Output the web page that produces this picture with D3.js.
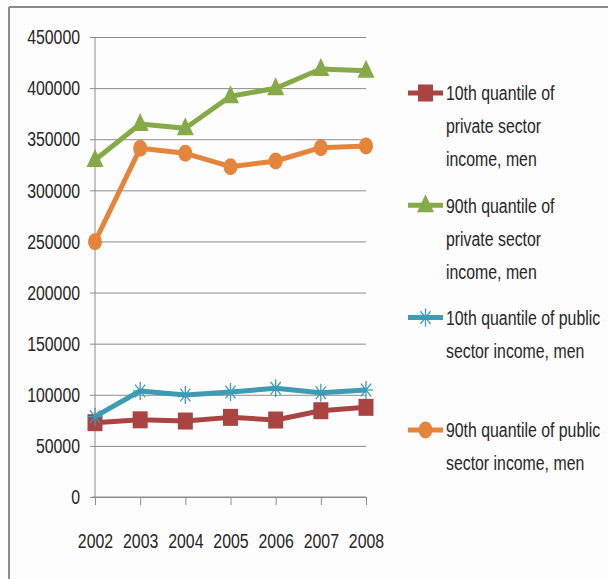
<!DOCTYPE html>
<html>
<head>
<meta charset="utf-8">
<script src="https://cdn.jsdelivr.net/npm/d3@7"></script>
<style>
  html, body { margin: 0; padding: 0; background: #fdfdfd; }
  svg { display: block; }
  text { font-family: "Liberation Sans", Arial, sans-serif; fill: #262626; }
</style>
</head>
<body>
<svg id="chart"></svg>
<script>
// Data
const years = [2002, 2003, 2004, 2005, 2006, 2007, 2008];
const private10 = [72700, 75500, 74300, 77900, 75300, 84400, 87700];
const private90 = [329700, 364900, 360700, 392000, 399800, 418700, 417000];
const public10 = [78600, 103700, 99800, 102700, 106300, 102000, 104700];
const public90 = [249800, 341100, 336200, 323100, 328700, 341700, 343400];
const yTicks = [0, 50000, 100000, 150000, 200000, 250000, 300000, 350000, 400000, 450000];

const series = [
  { key: 'p10', values: private10, color: '#a94442', marker: 'square',
    lines: ['10th quantile of', 'private sector', 'income, men'] },
  { key: 'p90', values: private90, color: '#86aa47', marker: 'triangle',
    lines: ['90th quantile of', 'private sector', 'income, men'] },
  { key: 'u10', values: public10, color: '#3e9bb4', marker: 'star',
    lines: ['10th quantile of public', 'sector income, men'] },
  { key: 'u90', values: public90, color: '#e5853b', marker: 'circle',
    lines: ['90th quantile of public', 'sector income, men'] },
];

const width = 608, height = 579;
const plot = { left: 95, right: 366, top: 37, bottom: 497 };
const fontSize = 21;
const squeeze = 0.755; // the original font is tall and narrow

const svg = d3.select('#chart')
  .attr('width', width)
  .attr('height', height)
  .attr('viewBox', `0 0 ${width} ${height}`);

// squeeze text horizontally around its own anchor
function narrow(sel) {
  sel.each(function() {
    const t = d3.select(this);
    const xv = +t.attr('x') || 0;
    t.attr('x', xv / squeeze).attr('transform', `scale(${squeeze},1)`);
  });
}

// chart frame (cropped: only top and left edges visible)
svg.append('line').attr('x1', 9).attr('x2', width).attr('y1', 7).attr('y2', 7)
  .attr('stroke', '#8a8a8a').attr('stroke-width', 2);
svg.append('line').attr('x1', 9).attr('x2', 9).attr('y1', 7).attr('y2', height)
  .attr('stroke', '#8a8a8a').attr('stroke-width', 2);

const x = d3.scalePoint().domain(years).range([plot.left, plot.right]);
const y = d3.scaleLinear().domain([0, 450000]).range([plot.bottom, plot.top]);

// y gridlines + labels
const yAxis = svg.append('g')
  .attr('transform', `translate(${plot.left - 5}, 0)`)
  .call(d3.axisLeft(y).tickValues(yTicks).tickFormat(d3.format('d'))
    .tickSize(-(plot.right - plot.left + 5)).tickPadding(10));
yAxis.select('.domain').remove();
yAxis.selectAll('.tick line').attr('stroke', '#8c8c8c').attr('stroke-width', 1);
yAxis.selectAll('.tick text').attr('font-size', fontSize).style('font-family', null).call(narrow);

// y axis line
svg.append('line')
  .attr('x1', plot.left).attr('x2', plot.left)
  .attr('y1', plot.top).attr('y2', plot.bottom)
  .attr('stroke', '#8c8c8c').attr('stroke-width', 1);

// x axis
const xAxis = svg.append('g')
  .attr('transform', `translate(0, ${plot.bottom})`)
  .call(d3.axisBottom(x).tickSize(8).tickPadding(28).tickSizeOuter(0));
xAxis.select('.domain').attr('stroke', '#8c8c8c')
  .attr('d', `M${plot.left - 3},0H${plot.right}`);
xAxis.selectAll('.tick line').attr('stroke', '#8c8c8c');
xAxis.selectAll('.tick text').attr('font-size', fontSize).style('font-family', null).call(narrow);

function drawMarker(g, type, color, cx, cy) {
  if (type === 'square') {
    g.append('rect').attr('x', cx - 7.5).attr('y', cy - 8.5).attr('width', 15).attr('height', 17)
      .attr('fill', color);
  } else if (type === 'triangle') {
    g.append('path').attr('d', `M${cx},${cy - 11}L${cx + 8.5},${cy + 7}L${cx - 8.5},${cy + 7}Z`)
      .attr('fill', color);
  } else if (type === 'circle') {
    g.append('ellipse').attr('cx', cx).attr('cy', cy).attr('rx', 7).attr('ry', 8.5)
      .attr('fill', color);
  } else if (type === 'star') {
    const r = 9;
    const sg = g.append('g').attr('stroke', color).attr('stroke-width', 1.3);
    [0, 45, 90, 135].forEach(a => {
      const rad = a * Math.PI / 180;
      sg.append('line')
        .attr('x1', cx - r * Math.cos(rad) * 0.8).attr('y1', cy - r * Math.sin(rad))
        .attr('x2', cx + r * Math.cos(rad) * 0.8).attr('y2', cy + r * Math.sin(rad));
    });
  }
}

const line = d3.line().x((d, i) => x(years[i])).y(d => y(d));

series.forEach(s => {
  const g = svg.append('g').attr('class', 'series-' + s.key);
  g.append('path')
    .attr('d', line(s.values))
    .attr('fill', 'none')
    .attr('stroke', s.color)
    .attr('stroke-width', 5)
    .attr('stroke-linejoin', 'round');
  s.values.forEach((v, i) => drawMarker(g, s.marker, s.color, x(years[i]), y(v)));
});

// legend
const legendTop = 93, legendStep = 112.3, lineStep = 33;
series.forEach((s, i) => {
  const ly = legendTop + i * legendStep;
  const g = svg.append('g').attr('class', 'legend-' + s.key);
  g.append('line').attr('x1', 408).attr('x2', 443).attr('y1', ly).attr('y2', ly)
    .attr('stroke', s.color).attr('stroke-width', 5);
  drawMarker(g, s.marker, s.color, 425.5, ly);
  s.lines.forEach((t, j) => {
    g.append('text')
      .attr('x', 446)
      .attr('y', ly + j * lineStep)
      .attr('dy', '0.35em')
      .attr('font-size', fontSize)
      .text(t)
      .call(narrow);
  });
});
</script>
</body>
</html>
